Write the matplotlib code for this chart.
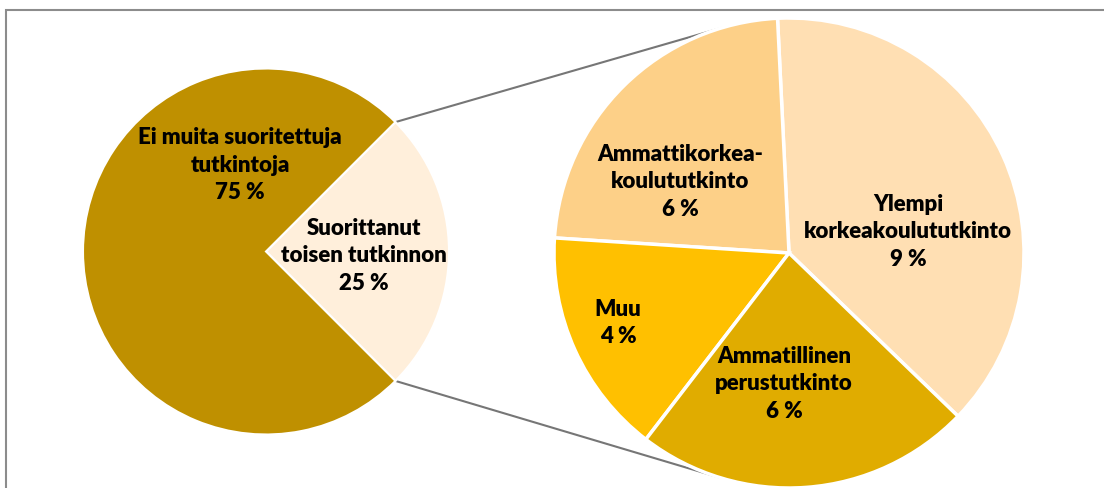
import matplotlib.pyplot as plt
import numpy as np
from matplotlib.patches import Rectangle

# vasen piirakka
main_labels = ['Ei muita suoritettuja\ntutkintoja\n75 %', 'Suorittanut\ntoisen tutkinnon\n25 %']
main_values = [75, 25]
main_colors = ['#BF9000', '#FFEFDB']

# oikea piirakka (25 % jaettuna)
sub_labels = ['Ylempi\nkorkeakoulututkinto\n9 %', 'Ammattikorkea-\nkoulututkinto\n6 %',
              'Muu\n4 %', 'Ammatillinen\nperustutkinto\n6 %']
sub_values = [9.5, 5.8, 3.9, 5.8]
sub_colors = ['#FFDFB3', '#FDD088', '#FFC000', '#E0AC00']

W, H = 1104, 488
fig = plt.figure(figsize=(W / 100, H / 100), dpi=100)
ax = fig.add_axes([0, 0, 1, 1])

c1, r1 = (266, H - 251.5), 183
c2, r2 = (789, H - 253), 235

# pieni osuus keskitetään oikealle
ax.pie(main_values[::-1], colors=main_colors[::-1], startangle=-45, counterclock=True,
       center=c1, radius=r1, frame=True,
       wedgeprops=dict(edgecolor='white', linewidth=1.5))
ax.pie(sub_values, colors=sub_colors, startangle=-44, counterclock=True,
       center=c2, radius=r2, frame=True,
       wedgeprops=dict(edgecolor='white', linewidth=2.5))
ax.set_xlim(0, W)
ax.set_ylim(0, H)
ax.set_aspect('equal')
ax.axis('off')

# yhdysviivat
for a1, a2 in [(45, 107), (-45, 253)]:
    p1 = (c1[0] + r1 * np.cos(np.radians(a1)), c1[1] + r1 * np.sin(np.radians(a1)))
    p2 = (c2[0] + r2 * np.cos(np.radians(a2)), c2[1] + r2 * np.sin(np.radians(a2)))
    ax.plot([p1[0], p2[0]], [p1[1], p2[1]], color='#767676', lw=1.5, zorder=0)

# kehys
ax.add_patch(Rectangle((6, -20), 1200, H - 10 + 20, fill=False, edgecolor='#8C8C8C', lw=1.5,
                       clip_on=False))

txt = dict(fontsize=16, fontweight='heavy', family='Lato', ha='center', va='center',
           linespacing=1.38)
ax.text(240, H - 165, main_labels[0], **txt)
ax.text(364, H - 256, main_labels[1], **txt)
ax.text(908, H - 232, sub_labels[0], **txt)
ax.text(680, H - 182, sub_labels[1], **txt)
ax.text(618, H - 323, sub_labels[2], **txt)
ax.text(784, H - 384, sub_labels[3], **txt)

fig.savefig('out.png', dpi=100)
